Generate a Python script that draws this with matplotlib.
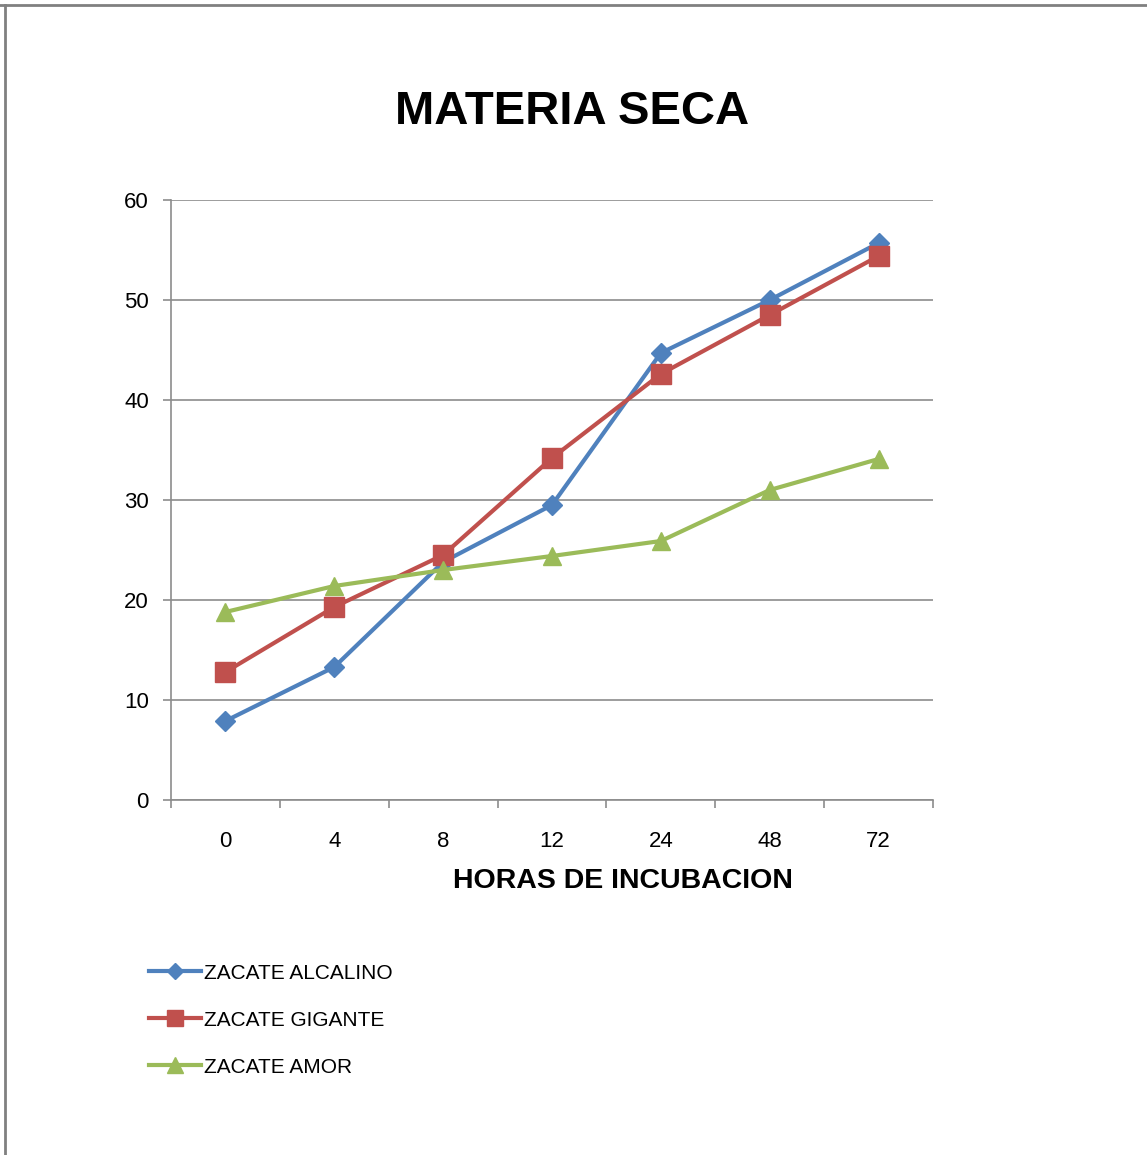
import matplotlib
matplotlib.use("Agg")
import matplotlib.pyplot as plt
from matplotlib.lines import Line2D

# Data
horas = ["0", "4", "8", "12", "24", "48", "72"]
alcalino = [7.9, 13.3, 23.8, 29.5, 44.7, 50.0, 55.7]
gigante = [12.8, 19.3, 24.5, 34.2, 42.6, 48.5, 54.4]
amor = [18.8, 21.4, 23.0, 24.4, 25.9, 31.0, 34.1]

plt.rcParams['font.family'] = ['Liberation Sans', 'DejaVu Sans']

fig = plt.figure(figsize=(11.47, 11.55), dpi=100)
ax = fig.add_axes([171/1147, 1 - 800/1155, (933 - 171)/1147, 600/1155])

x = list(range(len(horas)))
ax.plot(x, alcalino, color="#4F81BD", lw=3, marker="D", ms=10, label="ZACATE ALCALINO", zorder=3)
ax.plot(x, gigante, color="#C0504D", lw=3, marker="s", ms=14, label="ZACATE GIGANTE", zorder=3)
ax.plot(x, amor, color="#9BBB59", lw=3, marker="^", ms=13, label="ZACATE AMOR", zorder=3)

ax.set_xlim(-0.5, len(horas) - 0.5)
ax.set_ylim(0, 60)
ax.set_yticks(range(0, 61, 10))
ax.yaxis.grid(True, color="#8c8c8c", lw=1.2)
ax.set_axisbelow(True)

ax.set_xticks(x)
ax.set_xticklabels(horas)
ax.set_xticks([i - 0.5 for i in range(len(horas) + 1)], minor=True)
ax.tick_params(axis="x", which="major", length=0, pad=22, labelsize=16)
ax.tick_params(axis="x", which="minor", length=6, color="#8c8c8c", width=1.2, direction="out")
ax.tick_params(axis="y", length=6, color="#8c8c8c", width=1.2, pad=10, labelsize=16)

for s in ["top", "right"]:
    ax.spines[s].set_visible(False)
for s in ["left", "bottom"]:
    ax.spines[s].set_color("#8c8c8c")
    ax.spines[s].set_linewidth(1.2)

fig.text(572/1147, 1 - 112/1155, "MATERIA SECA", fontsize=34, fontweight="bold",
         ha="center", va="center")
fig.text(623/1147, 1 - 881/1155, "HORAS DE INCUBACION", fontsize=20.5, fontweight="bold",
         ha="center", va="center")

fig.legend(loc="upper left", bbox_to_anchor=(130/1147, 1 - 945/1155), frameon=False,
           fontsize=15, handlelength=2.5, handletextpad=0.15, labelspacing=1.34,
           markerscale=0.85)

# outer border (top and left visible)
fig.add_artist(Line2D([0, 1], [1 - 5/1155, 1 - 5/1155], color="#808080", lw=2, transform=fig.transFigure))
fig.add_artist(Line2D([5/1147, 5/1147], [0, 1 - 5/1155], color="#808080", lw=2, transform=fig.transFigure))

fig.savefig("out.png", dpi=100)
